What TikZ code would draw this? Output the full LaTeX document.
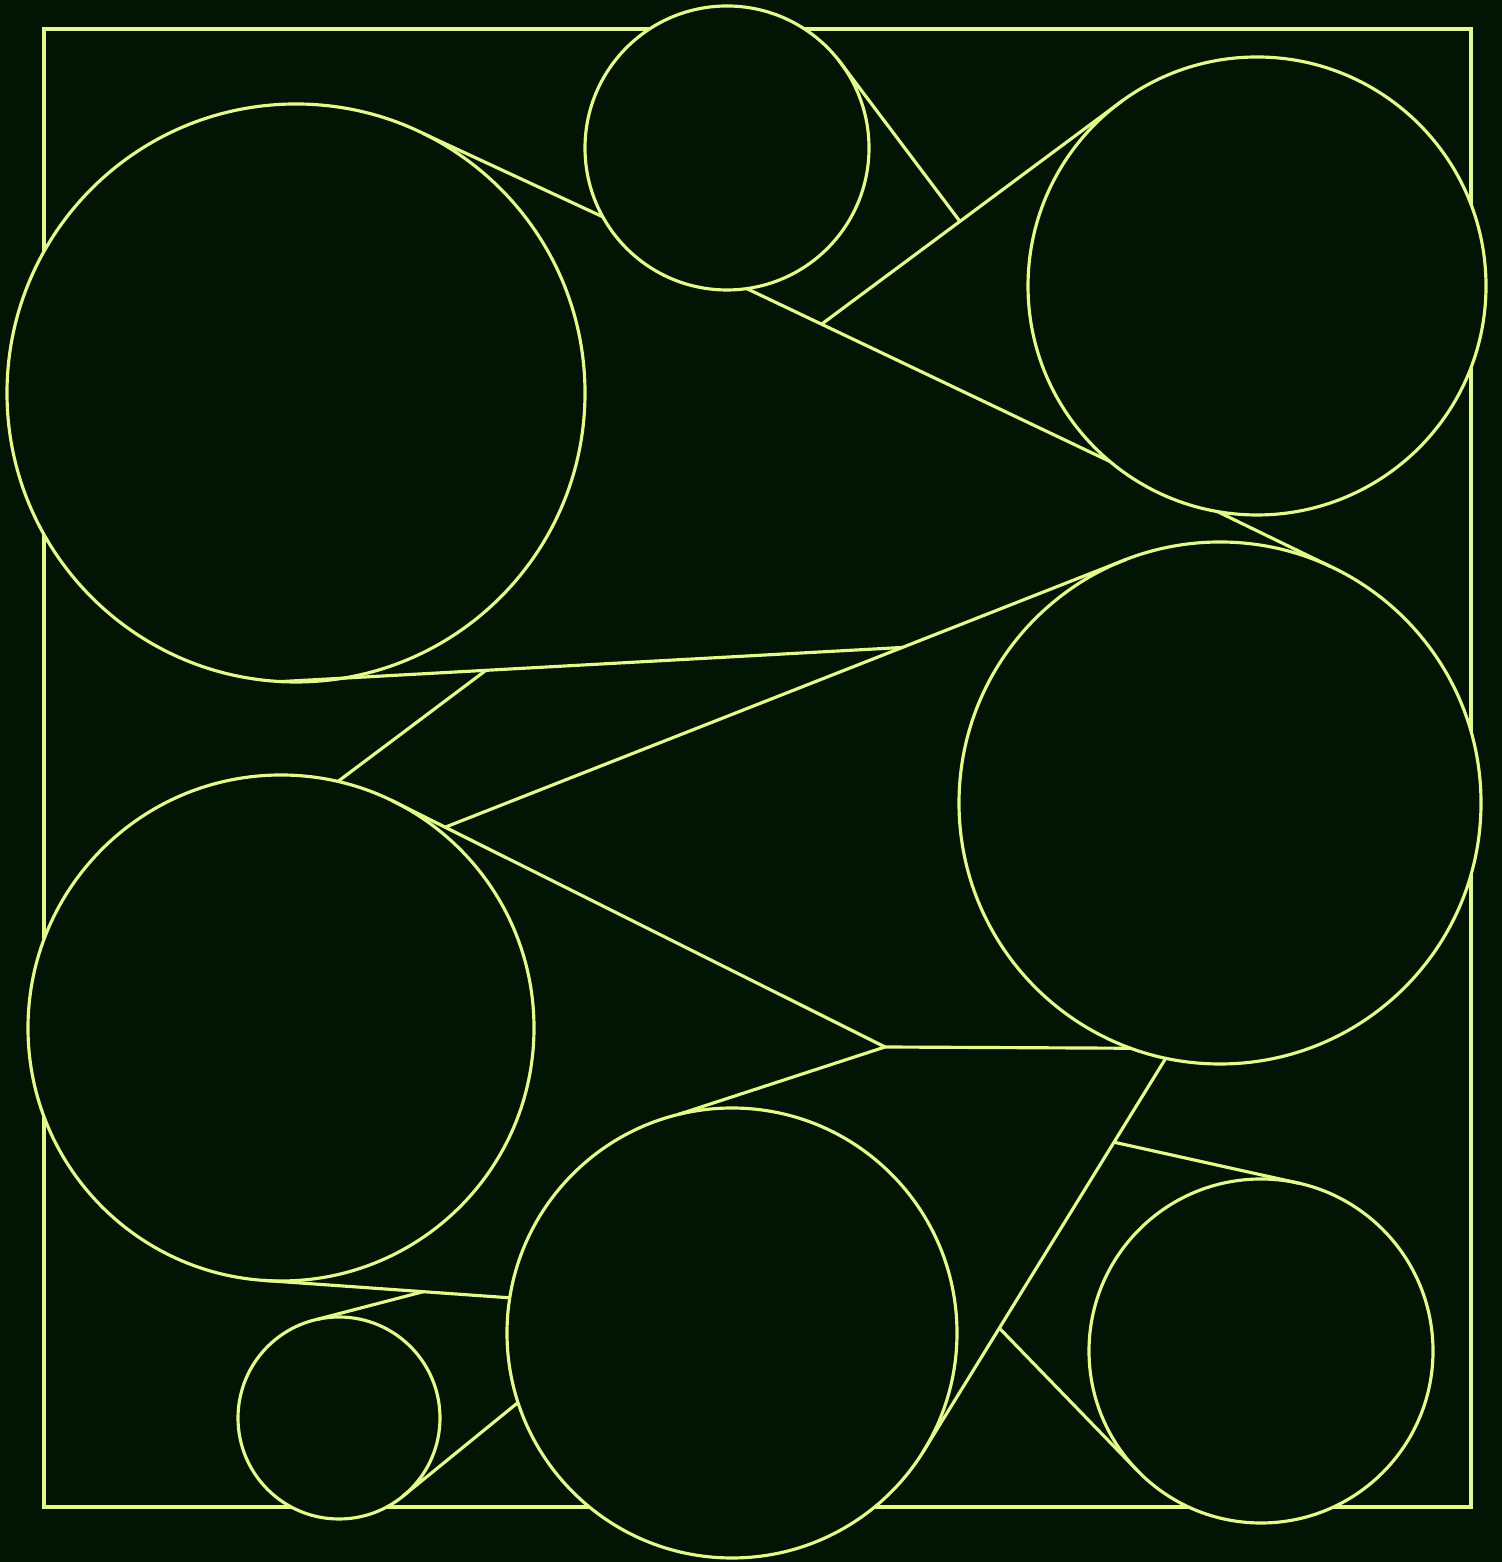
\documentclass[tikz,border=0pt]{standalone}
\usepackage{tikz}
\definecolor{bgdark}{RGB}{2,20,4}
\definecolor{limeline}{RGB}{228,250,140}

\begin{document}
\begin{tikzpicture}[disc/.style={circle, draw=limeline, fill=bgdark, line width=0.9pt, inner sep=0pt, outer sep=0pt},
  link/.style={limeline, line width=0.9pt}]
% Background and frame
\fill[bgdark] (0,0) rectangle (15.02,15.62);
\draw[limeline, line width=1.1pt] (0.44,0.55) rectangle (14.71,15.33);

% Discs
\node[disc, minimum size=2.84cm] (dtop) at (7.27,14.14) {};
\node[disc, minimum size=4.58cm] (dtr) at (12.57,12.76) {};
\node[disc, minimum size=5.78cm] (dbig) at (2.96,11.69) {};
\node[disc, minimum size=5.22cm] (dright) at (12.20,7.59) {};
\node[disc, minimum size=5.06cm] (dleft) at (2.81,5.34) {};
\node[disc, minimum size=4.50cm] (dbot) at (7.32,2.29) {};
\node[disc, minimum size=3.44cm] (dbr) at (12.61,2.11) {};
\node[disc, minimum size=2.02cm] (dsmall) at (3.39,1.44) {};

% Upper links
\draw[link] (dbig.64) -- (dtop.209);
\draw[link] (dtop.278) -- coordinate[pos=0.206] (j2) (dtr.230);
\draw[link] (dtr.126) -- coordinate[pos=0.54] (j1) (j2);
\draw[link] (dtop.38) -- (j1);
\draw[link] (dtr.260) -- (dright.65);

% Middle links
\coordinate (j6) at (8.85,5.15);
\draw[link] (dleft.64) -- coordinate[pos=0.108] (j5) (j6);
\draw[link] (dright.111) -- coordinate[pos=0.329] (j3) (j5);
\draw[link] (dbig.267) -- coordinate[pos=0.33] (j4) (j3);
\draw[link] (j4) -- (dleft.77);
\draw[link] (j6) -- (dright.250);
\draw[link] (j6) -- (dbot.104);

% Lower links
\draw[link] (dright.258) -- coordinate[pos=0.213] (j7) coordinate[pos=0.685] (j8) (dbot.328);
\draw[link] (j7) -- (dbr.77);
\draw[link] (j8) -- (dbr.224);
\draw[link] (dleft.266) -- coordinate[pos=0.649] (j9) (dbot.171);
\draw[link] (j9) -- (dsmall.103);
\draw[link] (dbot.198) -- (dsmall.309);
\end{tikzpicture}
\end{document}
